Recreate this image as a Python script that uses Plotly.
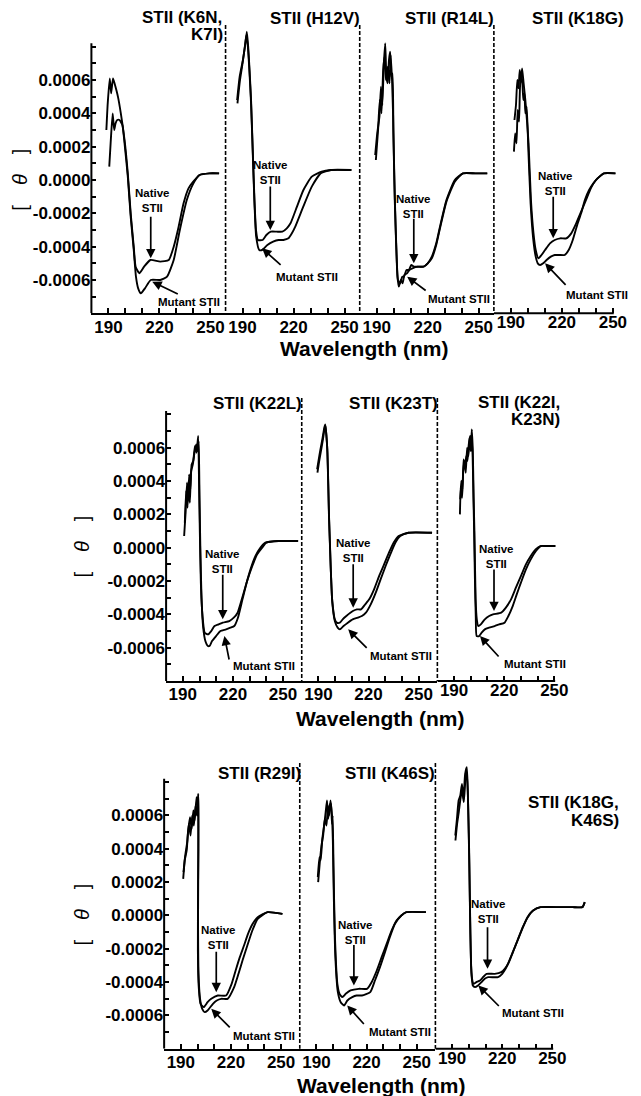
import plotly.graph_objects as go

# ---------------- DATA ----------------
WL_K6N_NAT = [188.8, 189.6, 190.8, 191.6, 192.7, 193.6, 195.6, 197.3, 199.5, 201.4, 203.1, 204.9, 206.0, 208.2, 211.0, 214.7, 220.5, 225.5, 228.4, 231.3, 234.2, 237.1, 239.9, 243.6, 249.4, 255.1]
TH_K6N_NAT = [0.00030, 0.00046, 0.00061, 0.00052, 0.00061, 0.00058, 0.00050, 0.00040, 0.00024, 0.00004, -0.00020, -0.00040, -0.00052, -0.00056, -0.00052, -0.00048, -0.00049, -0.00048, -0.00040, -0.00028, -0.00014, -0.00005, -0.00001, 0.00003, 0.00004, 0.00004]
WL_K6N_MUT = [190.5, 191.3, 192.5, 193.4, 194.2, 195.2, 196.5, 198.2, 199.5, 201.4, 203.1, 204.9, 206.2, 207.5, 209.1, 211.5, 214.9, 220.5, 224.5, 228.4, 232.0, 236.1, 240.0, 243.6, 249.4, 255.1]
TH_K6N_MUT = [0.00008, 0.00022, 0.00040, 0.00030, 0.00034, 0.00036, 0.00036, 0.00033, 0.00022, 0.00002, -0.00022, -0.00042, -0.00058, -0.00065, -0.00068, -0.00065, -0.00060, -0.00060, -0.00058, -0.00048, -0.00030, -0.00012, -0.00002, 0.00003, 0.00004, 0.00004]

WL_H12V_NAT = [186.8, 188.3, 190.2, 191.4, 192.5, 193.3, 194.0, 195.0, 196.0, 197.0, 197.9, 199.0, 201.8, 204.0, 206.6, 210.0, 213.4, 216.0, 218.2, 222.0, 225.8, 230.7, 236.5, 242.0, 254.0]
TH_H12V_NAT = [0.00048, 0.00062, 0.00072, 0.00080, 0.00089, 0.00080, 0.00068, 0.00048, 0.00018, -0.00012, -0.00030, -0.00036, -0.00036, -0.00033, -0.00031, -0.00031, -0.00031, -0.00029, -0.00026, -0.00016, -0.00006, 0.00002, 0.00005, 0.00006, 0.00006]
WL_H12V_MUT = [187.0, 188.5, 190.0, 191.6, 192.3, 193.2, 194.0, 195.0, 196.0, 197.0, 198.0, 199.8, 201.5, 204.6, 208.0, 211.2, 214.0, 217.0, 219.0, 221.0, 225.7, 230.7, 236.0, 242.0, 254.0]
TH_H12V_MUT = [0.00046, 0.00060, 0.00070, 0.00082, 0.00087, 0.00079, 0.00066, 0.00046, 0.00016, -0.00014, -0.00034, -0.00042, -0.00042, -0.00039, -0.00037, -0.00036, -0.00036, -0.00035, -0.00032, -0.00028, -0.00016, -0.00004, 0.00004, 0.00006, 0.00006]

WL_R14L_NAT = [189.1, 190.3, 191.6, 192.5, 193.3, 194.2, 195.0, 195.7, 196.4, 197.2, 197.9, 198.6, 199.3, 199.8, 200.6, 201.6, 202.5, 203.7, 205.0, 206.0, 207.5, 208.9, 210.3, 211.8, 215.0, 217.6, 220.0, 222.4, 225.0, 227.2, 231.0, 235.9, 240.7, 248.0, 255.0]
TH_R14L_NAT = [0.00015, 0.00028, 0.00038, 0.00056, 0.00045, 0.00070, 0.00082, 0.00062, 0.00058, 0.00072, 0.00077, 0.00062, 0.00064, 0.00028, -0.00012, -0.00042, -0.00060, -0.00062, -0.00058, -0.00058, -0.00054, -0.00054, -0.00051, -0.00052, -0.00052, -0.00052, -0.00050, -0.00046, -0.00038, -0.00028, -0.00012, 0.0, 0.00004, 0.00004, 0.00004]
WL_R14L_MUT = [189.5, 190.8, 191.8, 192.8, 193.8, 194.6, 195.4, 196.5, 197.5, 198.2, 199.0, 199.6, 200.4, 201.3, 202.2, 203.0, 204.2, 205.2, 206.3, 207.8, 209.2, 211.0, 214.0, 217.6, 220.0, 222.4, 225.0, 227.2, 231.0, 235.9, 240.7, 248.0, 255.0]
TH_R14L_MUT = [0.00012, 0.00030, 0.00048, 0.00040, 0.00066, 0.00074, 0.00060, 0.00068, 0.00058, 0.00075, 0.00060, 0.00040, 0.0, -0.00035, -0.00058, -0.00064, -0.00060, -0.00062, -0.00057, -0.00056, -0.00054, -0.00053, -0.00052, -0.00052, -0.00050, -0.00047, -0.00039, -0.00029, -0.00013, -0.00001, 0.00004, 0.00004, 0.00004]

WL_K18G_NAT = [192.1, 193.0, 193.8, 194.5, 195.2, 195.9, 196.6, 197.5, 198.5, 199.5, 200.4, 201.8, 203.3, 204.6, 206.2, 208.0, 210.1, 213.0, 215.8, 219.0, 222.6, 225.5, 228.4, 231.3, 234.2, 237.0, 240.0, 244.7, 251.5]
TH_K18G_NAT = [0.00036, 0.00045, 0.00060, 0.00055, 0.00066, 0.00060, 0.00067, 0.00058, 0.00048, 0.00035, 0.00022, -0.00012, -0.00032, -0.00042, -0.00047, -0.00045, -0.00042, -0.00038, -0.00036, -0.00035, -0.00035, -0.00032, -0.00026, -0.00019, -0.00012, -0.00005, 0.0, 0.00004, 0.00004]
WL_K18G_MUT = [191.8, 192.5, 193.3, 194.0, 194.8, 195.5, 196.5, 197.3, 198.0, 198.5, 199.3, 200.2, 201.6, 203.1, 204.6, 205.8, 207.2, 209.0, 211.0, 213.5, 215.8, 218.5, 221.6, 224.0, 226.4, 229.0, 231.3, 233.5, 236.0, 238.5, 241.0, 244.7, 251.5]
TH_K18G_MUT = [0.00017, 0.00028, 0.00022, 0.00042, 0.00035, 0.00058, 0.00062, 0.00048, 0.00052, 0.00040, 0.00044, 0.00020, -0.00014, -0.00035, -0.00046, -0.00050, -0.00051, -0.00050, -0.00048, -0.00046, -0.00045, -0.00045, -0.00045, -0.00042, -0.00036, -0.00027, -0.00020, -0.00012, -0.00006, -0.00002, 0.00001, 0.00004, 0.00004]

WL_K22L_NAT = [190.8, 191.6, 192.5, 193.2, 193.8, 194.5, 195.3, 196.2, 197.3, 198.2, 199.2, 199.7, 200.2, 200.8, 201.8, 203.1, 205.1, 207.0, 209.0, 211.5, 213.9, 217.8, 220.5, 222.8, 225.0, 227.6, 230.5, 233.5, 236.5, 239.4, 247.3, 259.0]
TH_K22L_NAT = [0.00007, 0.00020, 0.00039, 0.00028, 0.00044, 0.00035, 0.00050, 0.00052, 0.00061, 0.00057, 0.00067, 0.00040, 0.00009, -0.00021, -0.00041, -0.00051, -0.00052, -0.00050, -0.00047, -0.00046, -0.00045, -0.00044, -0.00042, -0.00039, -0.00032, -0.00023, -0.00013, -0.00005, 0.0, 0.00003, 0.00004, 0.00004]
WL_K22L_MUT = [191.2, 192.0, 192.8, 193.5, 194.2, 195.0, 196.0, 197.0, 198.0, 198.8, 199.5, 200.0, 200.5, 201.2, 202.2, 203.5, 205.0, 206.0, 207.5, 209.9, 212.5, 215.9, 218.5, 220.8, 223.0, 225.7, 228.5, 231.6, 234.5, 237.5, 240.0, 247.3, 259.0]
TH_K22L_MUT = [0.00015, 0.00034, 0.00024, 0.00040, 0.00027, 0.00046, 0.00050, 0.00057, 0.00062, 0.00058, 0.00064, 0.00030, 0.0, -0.00030, -0.00048, -0.00056, -0.00059, -0.00059, -0.00056, -0.00053, -0.00050, -0.00049, -0.00048, -0.00047, -0.00042, -0.00031, -0.00020, -0.00011, -0.00004, 0.0, 0.00003, 0.00004, 0.00004]

WL_K23T_NAT = [189.2, 190.0, 191.2, 192.5, 193.5, 194.1, 194.7, 195.3, 195.8, 196.3, 196.8, 197.3, 198.2, 199.8, 201.0, 202.8, 204.5, 206.7, 210.6, 213.0, 215.5, 218.0, 220.4, 223.3, 226.3, 229.3, 232.2, 235.0, 238.0, 243.9, 258.0]
TH_K23T_NAT = [0.00047, 0.00052, 0.00059, 0.00066, 0.00072, 0.00074, 0.00068, 0.00059, 0.00040, 0.00019, 0.00004, -0.00011, -0.00031, -0.00043, -0.00045, -0.00045, -0.00043, -0.00041, -0.00038, -0.00037, -0.00037, -0.00034, -0.00031, -0.00025, -0.00017, -0.00010, -0.00003, 0.00003, 0.00007, 0.00009, 0.00009]
WL_K23T_MUT = [189.4, 190.3, 191.5, 192.7, 193.6, 194.2, 194.8, 195.4, 195.9, 196.4, 196.9, 197.4, 198.3, 199.8, 201.5, 202.8, 205.0, 207.6, 210.5, 213.5, 216.0, 218.4, 221.3, 224.3, 227.2, 230.2, 233.0, 236.0, 239.0, 243.9, 258.0]
TH_K23T_MUT = [0.00045, 0.00051, 0.00058, 0.00065, 0.00071, 0.00073, 0.00067, 0.00057, 0.00038, 0.00017, 0.00002, -0.00013, -0.00033, -0.00044, -0.00048, -0.00049, -0.00047, -0.00045, -0.00043, -0.00042, -0.00041, -0.00039, -0.00034, -0.00027, -0.00019, -0.00011, -0.00004, 0.00003, 0.00007, 0.00009, 0.00009]

WL_K22I_NAT = [193.7, 194.3, 195.0, 195.7, 196.5, 197.3, 198.0, 198.8, 199.6, 200.1, 200.6, 201.2, 201.7, 202.2, 202.9, 203.6, 204.5, 206.0, 208.4, 211.0, 213.3, 218.2, 221.0, 224.1, 227.0, 230.0, 233.0, 235.9, 238.8, 241.8, 246.0, 250.6]
TH_K22I_NAT = [0.00029, 0.00040, 0.00035, 0.00053, 0.00048, 0.00055, 0.00052, 0.00062, 0.00067, 0.00060, 0.00071, 0.00059, 0.00030, 0.00009, -0.00031, -0.00043, -0.00047, -0.00046, -0.00043, -0.00041, -0.00040, -0.00039, -0.00036, -0.00031, -0.00024, -0.00017, -0.00010, -0.00005, -0.00001, 0.00001, 0.00001, 0.00001]
WL_K22I_MUT = [193.5, 194.0, 194.8, 195.5, 196.3, 197.0, 197.8, 198.6, 199.3, 200.0, 200.8, 201.4, 201.9, 202.5, 203.0, 203.5, 205.0, 206.5, 208.4, 211.0, 214.3, 217.0, 220.2, 222.5, 225.1, 227.5, 230.0, 233.0, 235.9, 239.0, 241.8, 246.0, 250.6]
TH_K22I_MUT = [0.00020, 0.00036, 0.00030, 0.00046, 0.00052, 0.00045, 0.00060, 0.00055, 0.00066, 0.00058, 0.00064, 0.00040, 0.00015, -0.00020, -0.00042, -0.00053, -0.00053, -0.00051, -0.00049, -0.00048, -0.00047, -0.00046, -0.00045, -0.00041, -0.00035, -0.00028, -0.00021, -0.00013, -0.00007, -0.00002, 0.00001, 0.00001, 0.00001]

WL_R29I_NAT = [191.6, 192.3, 193.5, 194.3, 195.5, 196.5, 197.5, 198.3, 199.4, 200.0, 200.4, 200.6, 200.3, 200.2, 200.6, 201.8, 203.7, 206.0, 208.2, 212.1, 217.1, 220.4, 222.8, 225.3, 227.8, 230.2, 233.0, 236.0, 241.9, 250.8]
TH_R29I_NAT = [0.00026, 0.00033, 0.00039, 0.00050, 0.00059, 0.00052, 0.00063, 0.00057, 0.00071, 0.00066, 0.00073, 0.00062, 0.00019, -0.00021, -0.00041, -0.00053, -0.00055, -0.00052, -0.00050, -0.00048, -0.00048, -0.00041, -0.00033, -0.00025, -0.00018, -0.00011, -0.00005, -0.00001, 0.00002, 0.00001]
WL_R29I_MUT = [191.4, 192.5, 193.8, 194.8, 195.8, 196.8, 197.8, 198.8, 199.6, 200.3, 200.5, 200.3, 200.6, 201.5, 202.8, 204.3, 206.0, 209.2, 211.5, 214.1, 218.0, 221.9, 224.5, 226.9, 229.8, 232.8, 236.0, 241.9, 250.8]
TH_R29I_MUT = [0.00022, 0.00035, 0.00044, 0.00055, 0.00048, 0.00060, 0.00054, 0.00066, 0.00060, 0.00070, 0.00040, 0.0, -0.00035, -0.00050, -0.00056, -0.00058, -0.00057, -0.00053, -0.00051, -0.00050, -0.00050, -0.00043, -0.00035, -0.00027, -0.00018, -0.00009, -0.00002, 0.00002, 0.00001]

WL_K46S_NAT = [190.8, 191.8, 192.5, 193.5, 194.7, 195.5, 196.3, 197.0, 197.8, 198.6, 199.3, 199.7, 200.2, 201.0, 202.5, 203.8, 205.5, 207.5, 210.4, 215.3, 220.2, 223.0, 226.1, 229.0, 232.0, 235.0, 237.9, 240.8, 243.8, 255.5]
TH_K46S_NAT = [0.00023, 0.00035, 0.00033, 0.00046, 0.00055, 0.00062, 0.00069, 0.00058, 0.00066, 0.00067, 0.00055, 0.00060, 0.00029, -0.00011, -0.00041, -0.00047, -0.00049, -0.00047, -0.00045, -0.00044, -0.00044, -0.00040, -0.00033, -0.00025, -0.00017, -0.00009, -0.00003, 0.0, 0.00002, 0.00002]
WL_K46S_MUT = [191.0, 192.0, 193.0, 194.0, 195.0, 196.0, 196.8, 197.6, 198.4, 199.2, 199.8, 200.4, 201.3, 202.8, 204.5, 206.5, 208.5, 211.4, 214.0, 217.2, 222.2, 225.0, 228.0, 231.0, 233.9, 237.0, 240.8, 243.8, 255.5]
TH_K46S_MUT = [0.00020, 0.00032, 0.00042, 0.00048, 0.00058, 0.00054, 0.00065, 0.00060, 0.00069, 0.00061, 0.00045, 0.00010, -0.00025, -0.00046, -0.00052, -0.00054, -0.00051, -0.00049, -0.00048, -0.00048, -0.00046, -0.00039, -0.00031, -0.00022, -0.00013, -0.00005, 0.0, 0.00002, 0.00002]

WL_K18GK46S_NAT = [191.9, 192.9, 193.9, 194.9, 195.9, 196.8, 197.8, 198.8, 199.4, 200.2, 200.8, 201.4, 202.1, 202.8, 204.5, 206.7, 208.5, 210.6, 215.5, 219.4, 221.5, 223.4, 226.3, 229.2, 232.0, 235.1, 238.5, 242.9, 254.7, 262.0, 268.0, 269.4]
TH_K18GK46S_NAT = [0.00048, 0.00058, 0.00069, 0.00072, 0.00079, 0.00070, 0.00085, 0.00089, 0.00075, 0.00039, -0.00001, -0.00031, -0.00039, -0.00041, -0.00040, -0.00039, -0.00037, -0.00035, -0.00035, -0.00034, -0.00032, -0.00029, -0.00022, -0.00015, -0.00008, -0.00001, 0.00003, 0.00005, 0.00005, 0.00005, 0.00005, 0.00008]
WL_K18GK46S_MUT = [192.0, 193.0, 194.0, 195.0, 196.0, 197.0, 198.0, 198.8, 199.5, 200.3, 200.9, 201.6, 202.4, 203.7, 205.5, 207.6, 209.5, 211.6, 217.5, 220.0, 222.0, 224.0, 226.8, 229.5, 232.3, 235.3, 238.5, 242.9, 254.7, 262.0, 268.0, 269.4]
TH_K18GK46S_MUT = [0.00045, 0.00055, 0.00062, 0.00070, 0.00075, 0.00068, 0.00082, 0.00086, 0.00070, 0.00030, -0.00010, -0.00035, -0.00042, -0.00043, -0.00042, -0.00040, -0.00038, -0.00037, -0.00037, -0.00035, -0.00032, -0.00028, -0.00021, -0.00014, -0.00007, -0.00001, 0.00003, 0.00005, 0.00005, 0.00005, 0.00005, 0.00008]

TITLES = [["STII (K6N,", "K7I)"], ["STII (H12V)"], ["STII (R14L)"], ["STII (K18G)"],
          ["STII (K22L)"], ["STII (K23T)"], ["STII (K22I,", "K23N)"],
          ["STII (R29I)"], ["STII (K46S)"], ["STII (K18G,", "K46S)"]]

SERIES = [
    (WL_K6N_NAT, TH_K6N_NAT, WL_K6N_MUT, TH_K6N_MUT),
    (WL_H12V_NAT, TH_H12V_NAT, WL_H12V_MUT, TH_H12V_MUT),
    (WL_R14L_NAT, TH_R14L_NAT, WL_R14L_MUT, TH_R14L_MUT),
    (WL_K18G_NAT, TH_K18G_NAT, WL_K18G_MUT, TH_K18G_MUT),
    (WL_K22L_NAT, TH_K22L_NAT, WL_K22L_MUT, TH_K22L_MUT),
    (WL_K23T_NAT, TH_K23T_NAT, WL_K23T_MUT, TH_K23T_MUT),
    (WL_K22I_NAT, TH_K22I_NAT, WL_K22I_MUT, TH_K22I_MUT),
    (WL_R29I_NAT, TH_R29I_NAT, WL_R29I_MUT, TH_R29I_MUT),
    (WL_K46S_NAT, TH_K46S_NAT, WL_K46S_MUT, TH_K46S_MUT),
    (WL_K18GK46S_NAT, TH_K18GK46S_NAT, WL_K18GK46S_MUT, TH_K18GK46S_MUT),
]

# arrow heads (wavelength, theta) where the labels point
NATIVE_HEAD = [(214.9, -0.00047), (206.3, -0.00030), (211.8, -0.00050), (214.9, -0.00035),
               (213.9, -0.00043), (210.8, -0.00036), (213.9, -0.00038),
               (211.2, -0.00046), (212.4, -0.00042), (211.2, -0.00032)]
MUTANT_HEAD = [(215.8, -0.00061), (201.5, -0.00041), (207.9, -0.00058), (210.1, -0.00050),
               (214.9, -0.00053), (207.8, -0.00049), (205.5, -0.00053),
               (208.2, -0.00056), (208.4, -0.00054), (205.7, -0.00042)]

X_TICKS = [190, 200, 210, 220, 230, 240, 250]
X_TICKTEXT = ["190", "", "", "220", "", "", "250"]
Y_TICKS = [-0.0008, -0.0007, -0.0006, -0.0005, -0.0004, -0.0003, -0.0002, -0.0001, 0.0,
           0.0001, 0.0002, 0.0003, 0.0004, 0.0005, 0.0006, 0.0007, 0.0008]
Y_TICKTEXT = ["", "", "-0.0006", "", "-0.0004", "", "-0.0002", "", "0.0000",
              "", "0.0002", "", "0.0004", "", "0.0006", "", ""]

# ---------------- LAYOUT CONFIG (pixels) ----------------
W, H = 641, 1096
UNIT = 6e-6           # theta per pixel
Y_LO, Y_HI = -0.0008, 0.00095
X0 = 180.0
ROWS = [
    dict(zero=180.0, left=93.0, pw=136.5, s=1.73, n=4, last_w=129.5, div_top=25,
         ytitle=(20, 180), xtitle=(370, 349)),
    dict(zero=547.7, left=169.0, pw=138.0, s=1.70, n=3, last_w=122.4, div_top=398,
         ytitle=(83, 547), xtitle=(387, 718)),
    dict(zero=915.5, left=167.0, pw=138.0, s=1.70, n=3, last_w=157.0, div_top=763,
         ytitle=(83, 915), xtitle=(388, 1085)),
]
TITLE_POS = [[(228, 18), (229, 35)], [(368, 19)], [(505, 19)], [(637, 19)],
             [(309, 404)], [(448, 404)], [(572, 402), (572, 420)],
             [(308, 773)], [(445, 773)], [(632, 802), (632, 820)]]
# (tail offset px, text offset px) relative to arrow head
NAT_OFF = [((0, -43), (2, -58)), ((0, -45), (0, -57)), ((0, -46), (0, -57)), ((0, -43), (2, -55)),
           ((0, -46), (0, -58)), ((0, -45), (0, -57)), ((0, -43), (2, -55)),
           ((0, -42), (2, -55)), ((0, -42), (2, -53)), ((0, -43), (1, -57))]
MUT_OFF = [((27, 13), (37, 20)), ((20, 18), (45, 29)), ((20, 15), (52, 22)), ((22, 23), (52, 32)),
           ((5, 25), (40, 30)), ((20, 20), (53, 27)), ((20, 22), (55, 28)),
           ((20, 20), (53, 27)), ((18, 20), (53, 27)), ((22, 22), (55, 28))]

FONT = "Liberation Sans, Arial, Helvetica, sans-serif"

def pxx(p):
    return p / W

def pxy(p):
    return 1 - p / H

fig = go.Figure()
layout = dict(width=W, height=H, margin=dict(l=0, r=0, t=0, b=0), autosize=False,
              paper_bgcolor="white", plot_bgcolor="white", showlegend=False)
shapes, annots = [], []

idx = 0
for r, row in enumerate(ROWS):
    ybot = row["zero"] - Y_LO / UNIT
    ytop = row["zero"] - Y_HI / UNIT
    for k in range(row["n"]):
        n = idx + 1
        sfx = "" if n == 1 else str(n)
        last = (k == row["n"] - 1)
        xl = row["left"] + k * row["pw"]
        wpx = row["last_w"] if last else row["pw"]
        xr = xl + wpx
        xmax = X0 + wpx / row["s"]
        layout["xaxis" + sfx] = dict(
            domain=[pxx(xl), pxx(xr)], range=[X0, xmax], anchor="y" + sfx,
            tickmode="array", tickvals=X_TICKS, ticktext=X_TICKTEXT,
            ticks="inside", ticklen=5, tickwidth=1.6, tickcolor="black",
            ticklabelstandoff=-3,
            showline=not last, linecolor="black", linewidth=2,
            showgrid=False, zeroline=False,
            tickfont=dict(family=FONT, size=17, color="black", weight="bold"))
        ycfg = dict(domain=[pxy(ybot), pxy(ytop)], range=[Y_LO, Y_HI], anchor="x" + sfx,
                    showgrid=False, zeroline=False, showline=False)
        if k == 0:
            ycfg.update(tickmode="array", tickvals=Y_TICKS, ticktext=Y_TICKTEXT,
                        ticks="inside", ticklen=5, tickwidth=1.6, tickcolor="black",
                        tickfont=dict(family=FONT, size=17, color="black", weight="bold"))
            shapes.append(dict(type="line", xref="x%s domain" % sfx, yref="y" + sfx,
                               x0=0, x1=0, y0=Y_LO, y1=0.00082,
                               line=dict(color="black", width=2)))
        else:
            ycfg.update(showticklabels=False, ticks="")
            shapes.append(dict(type="line", xref="paper", yref="paper",
                               x0=pxx(xl), x1=pxx(xl), y0=pxy(row["div_top"]), y1=pxy(ybot),
                               line=dict(color="black", width=1.6, dash="4px,2px")))
        layout["yaxis" + sfx] = ycfg
        if last:
            shapes.append(dict(type="line", xref="x" + sfx, yref="y%s domain" % sfx,
                               x0=X0, x1=250.5, y0=0, y1=0,
                               line=dict(color="black", width=2)))

        wn, tn, wm, tm = SERIES[idx]
        for xs, ys in ((wn, tn), (wm, tm)):
            fig.add_trace(go.Scatter(x=xs, y=ys, mode="lines", xaxis="x" + sfx, yaxis="y" + sfx,
                                     line=dict(color="black", width=1.9, shape="spline", smoothing=0.5),
                                     hoverinfo="skip"))

        for text, (tx, ty) in zip(TITLES[idx], TITLE_POS[idx]):
            annots.append(dict(text=text, x=pxx(tx), y=pxy(ty), xref="paper", yref="paper",
                               xanchor="right", yanchor="middle", showarrow=False,
                               font=dict(family=FONT, size=17, color="black", weight="bold")))

        for head, (tail, toff), label in ((NATIVE_HEAD[idx], NAT_OFF[idx], "Native<br>STII"),
                                          (MUTANT_HEAD[idx], MUT_OFF[idx], "Mutant STII")):
            annots.append(dict(text="", x=head[0], y=head[1], xref="x" + sfx, yref="y" + sfx,
                               ax=tail[0], ay=tail[1], axref="pixel", ayref="pixel",
                               showarrow=True, arrowhead=2, arrowsize=1.1, arrowwidth=1.7,
                               arrowcolor="black"))
            annots.append(dict(text=label, x=head[0], y=head[1], xref="x" + sfx, yref="y" + sfx,
                               xshift=toff[0], yshift=-toff[1], showarrow=False,
                               xanchor="center", yanchor="middle",
                               font=dict(family=FONT, size=11.5, color="black", weight="bold")))
        idx += 1

    annots.append(dict(text="[\u2003<i>θ</i>\u2003]", x=pxx(row["ytitle"][0]), y=pxy(row["ytitle"][1]),
                       xref="paper", yref="paper", textangle=-90, showarrow=False,
                       xanchor="center", yanchor="middle",
                       font=dict(family=FONT, size=20, color="black")))
    annots.append(dict(text="Wavelength (nm)", x=pxx(row["xtitle"][0]), y=pxy(row["xtitle"][1]),
                       xref="paper", yref="paper", showarrow=False,
                       xanchor="center", yanchor="middle",
                       font=dict(family=FONT, size=21, color="black", weight="bold")))

layout["shapes"] = shapes
layout["annotations"] = annots
fig.update_layout(**layout)
fig.write_html("out.html", config={"responsive": False, "displayModeBar": False},
               post_script="document.documentElement.style.margin='0';document.body.style.margin='0';"
                           "document.documentElement.style.overflow='hidden';document.body.style.overflow='hidden';")
